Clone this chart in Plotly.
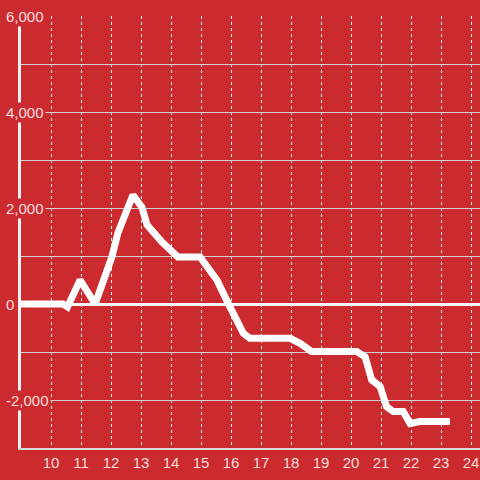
import plotly.graph_objects as go

# series
hours = [9, 10.4, 10.55, 10.97, 11.47, 11.7, 12.03, 12.23, 12.73, 13.03, 13.2, 13.7, 13.87,
         14.23, 14.97, 15.23, 15.53, 15.87, 16.41, 16.63, 17.97, 18.3, 18.69, 20.19, 20.47,
         20.69, 20.97, 21.19, 21.41, 21.74, 21.97, 22.3, 23.3]
values = [0, 0, -60, 500, 0, 400, 980, 1480, 2270, 2020, 1650, 1290, 1190,
          980, 980, 770, 500, 60, -610, -715, -715, -820, -990, -990, -1100,
          -1580, -1720, -2140, -2240, -2240, -2490, -2450, -2450]

x_ticks = list(range(10, 25))
y_grid = [-3000, -2000, -1000, 0, 1000, 2000, 3000, 4000, 5000, 6000]
y_labels = [-2000, 0, 2000, 4000, 6000]

bg = "#cb2a2f"
label_color = "#f6dede"
font = "Liberation Sans"

fig = go.Figure()
fig.add_trace(go.Scatter(x=hours, y=values, mode="lines",
                         line=dict(color="white", width=7), hoverinfo="skip"))

# y labels sit on a red box over the grid, like the original
for v in y_labels:
    fig.add_annotation(x=0, xref="paper", y=v, yref="y", text=f"{v:,}",
                       showarrow=False, xanchor="left", xshift=-17, bgcolor=bg,
                       borderpad=1, font=dict(family=font, size=15, color=label_color))

fig.update_layout(
    width=480, height=480,
    paper_bgcolor=bg, plot_bgcolor=bg,
    margin=dict(l=21, r=0, t=16, b=32, autoexpand=False),
    showlegend=False,
    xaxis=dict(range=[9, 24.3], tickvals=x_ticks, showgrid=True, gridcolor="#f2f2f2",
               griddash="dot", gridwidth=1, showline=True, linecolor="#d8d8d8", linewidth=2,
               zeroline=False, ticks="", automargin=False,
               tickfont=dict(family=font, size=15, color=label_color)),
    yaxis=dict(range=[-3000, 6000], tickvals=y_grid, showticklabels=False, showgrid=True,
               gridcolor="#d0d0d0", gridwidth=1, zeroline=True, zerolinecolor="#f8f8f8",
               zerolinewidth=3, showline=True, linecolor="#f2f2f2", linewidth=3, ticks="",
               automargin=False),
)

fig.write_html("out.html", config={"displayModeBar": False},
               post_script="document.body.style.margin='0';")
